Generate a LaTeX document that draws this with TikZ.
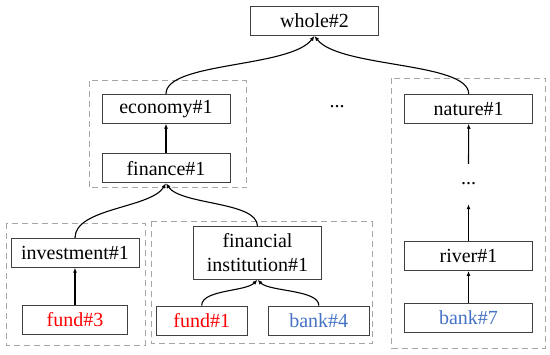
\documentclass[tikz,border=0pt]{standalone}
\usepackage{fontspec}
\setmainfont{Liberation Serif}
\usetikzlibrary{arrows.meta,positioning}
\definecolor{boxgray}{HTML}{404040}
\definecolor{dashgray}{HTML}{A6A6A6}
\definecolor{sensered}{HTML}{FF0000}
\definecolor{senseblue}{HTML}{4472C4}

\begin{document}
\begin{tikzpicture}[x=1pt,y=-1pt,
  sense/.style={draw=boxgray,line width=0.9pt,minimum width=128pt,minimum height=29pt,
    inner sep=0pt,font=\fontsize{20}{24}\selectfont},
  group/.style={draw=dashgray,line width=1pt,dash pattern=on 6pt off 4pt},
  arr/.style={line width=1.1pt,-{Latex[length=5pt,width=4pt]}}]
  \useasboundingbox (0,0) rectangle (550,355);
  % dashed groups
  \draw[group] (89,81) rectangle (246.7,188);
  \draw[group] (391.7,78.3) rectangle (545.7,348.3);
  \draw[group] (6.7,223.3) rectangle (145,345.7);
  \draw[group] (151.7,221.5) rectangle (372,344);
  % senses
  \node[sense] (whole) at (314.5,21) {whole\#2};
  \node[sense] (economy) at (166,108.8) {economy\#1};
  \node[sense] (finance) at (166,168.3) {finance\#1};
  \node[sense] (nature) at (468.7,108.8) {nature\#1};
  \node[sense] (river) at (468.5,256) {river\#1};
  \node[sense,text=senseblue] (bank7) at (468.5,318) {bank\#7};
  \node[sense] (invest) at (75,252.8) {investment\#1};
  \node[sense,minimum width=105pt,text=sensered] (fund3) at (75,320) {fund\#3};
  \node[sense,minimum height=52.6pt,align=center] (fininst) at (257.5,253) {financial\\institution\#1};
  \node[sense,minimum width=91pt,text=sensered] (fund1) at (201.7,320.5) {fund\#1};
  \node[sense,minimum width=101pt,text=senseblue] (bank4) at (318.8,320.5) {bank\#4};
  \node[font=\fontsize{20}{24}\selectfont,inner sep=0pt] (hdots) at (337,107) {...};
  \node[font=\fontsize{20}{24}\selectfont,inner sep=0pt,minimum height=40pt] (vdots) at (468.5,184) {...};
  % hypernym links
  \draw[arr] (economy.north) .. controls +(0,-32) and +(-24.5,32) .. (whole.south);
  \draw[arr] (nature.north) .. controls +(0,-32) and +(24.5,32) .. (whole.south);
  \draw[arr] (finance.north) -- (economy.south);
  \draw[arr] (invest.north) .. controls +(0,-30) and +(-15,25) .. (finance.south);
  \draw[arr] (fininst.north) .. controls +(0,-25) and +(15,22) .. (finance.south);
  \draw[arr] (fund3.north) -- (invest.south);
  \draw[arr] (fund1.north) .. controls +(0,-16) and +(-12,12) .. (fininst.south);
  \draw[arr] (bank4.north) .. controls +(0,-16) and +(12,12) .. (fininst.south);
  \draw[arr] (bank7.north) -- (river.south);
  \draw[arr] (river.north) -- (vdots.south);
  \draw[arr] (vdots.north) -- (nature.south);
\end{tikzpicture}
\end{document}
